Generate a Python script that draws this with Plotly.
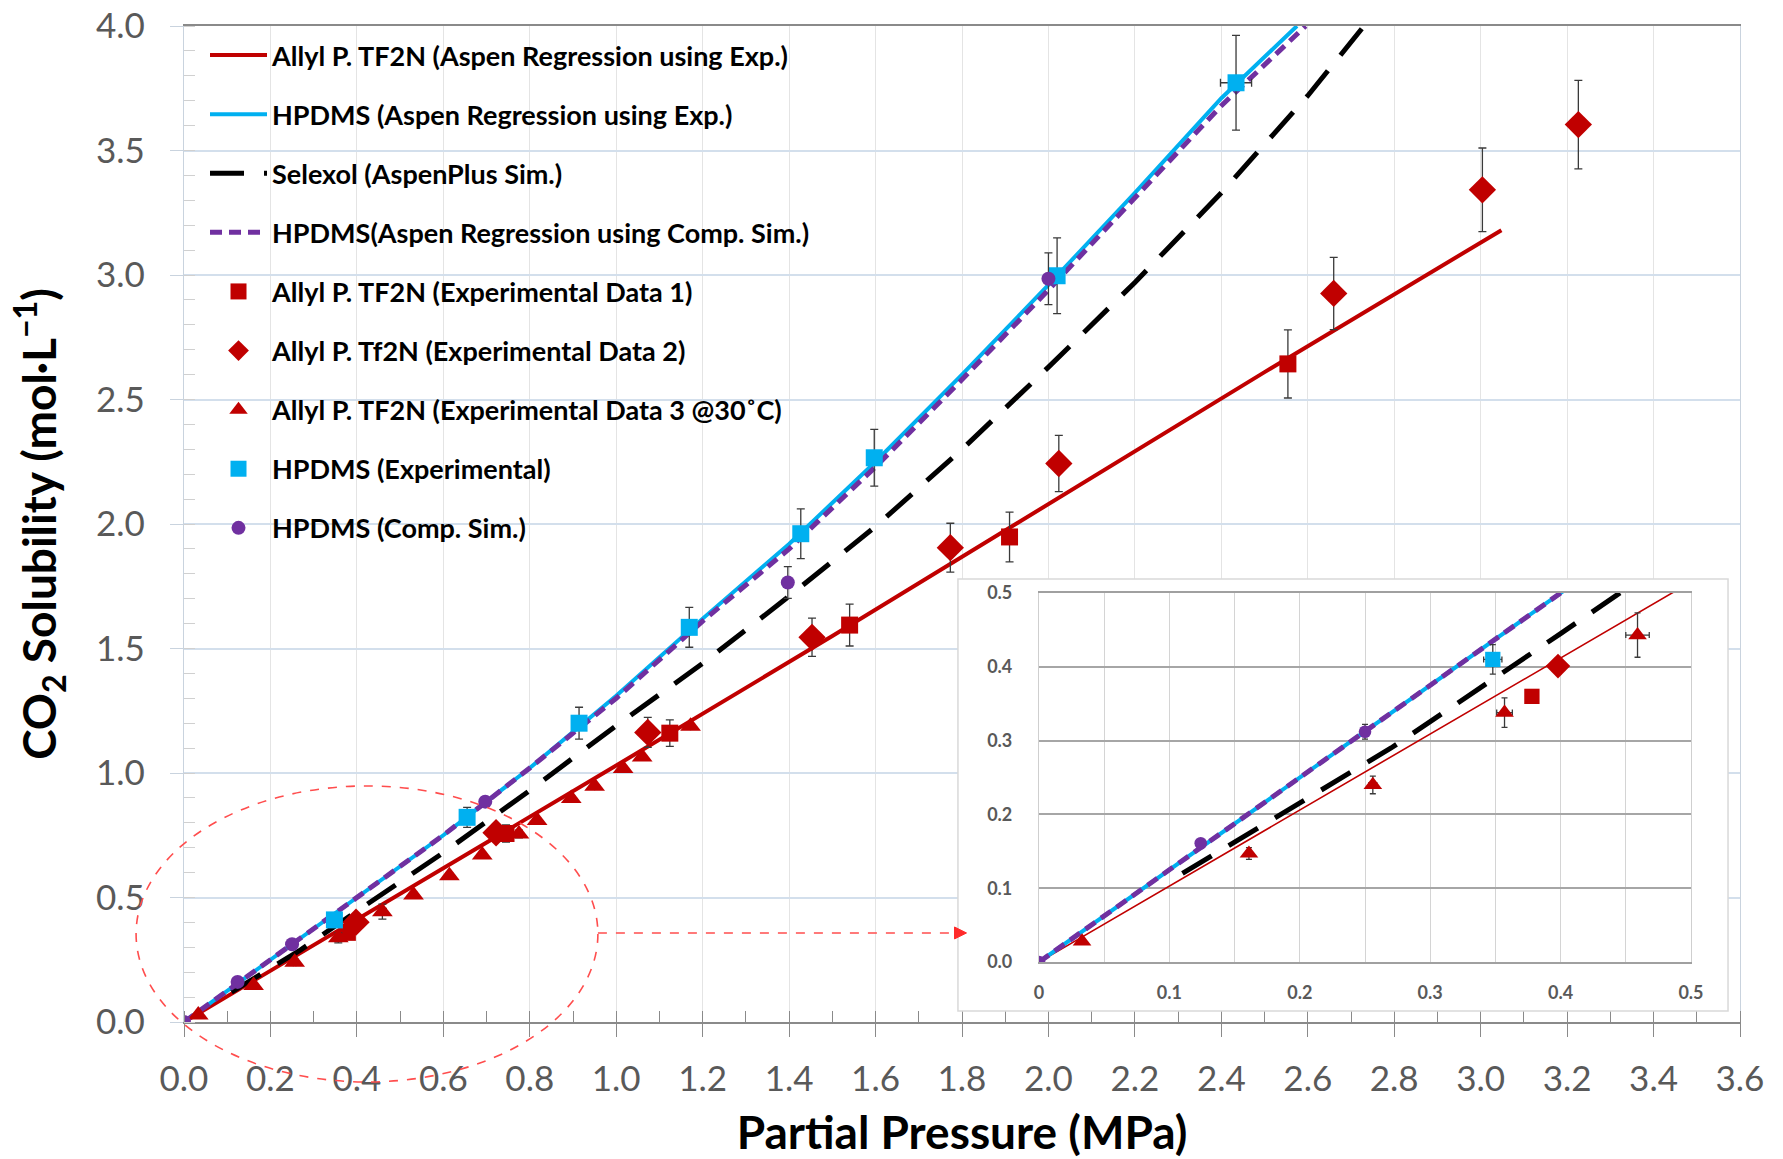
import plotly.graph_objects as go

# ---------------- data ----------------
# model / regression curves
allyl_reg_x = [0, 0.5, 1.0, 1.5, 2.0, 2.5, 3.048]
allyl_reg_y = [0, 0.515, 1.03, 1.55, 2.08, 2.61, 3.18]

hpdms_reg_x = [0, 0.2, 0.4, 0.6, 0.8, 1.0, 1.2, 1.4, 1.6, 1.8, 2.0, 2.2, 2.4, 2.575]
hpdms_reg_y = [0, 0.25, 0.5, 0.75, 1.02, 1.31, 1.62, 1.92, 2.25, 2.6, 2.96, 3.33, 3.71, 4.0]

selexol_x = [0.11, 0.27, 0.4, 0.6, 0.8, 1.0, 1.2, 1.4, 1.6, 1.8, 2.0, 2.2, 2.4, 2.6, 2.73]
selexol_y = [0.12, 0.29, 0.445, 0.68, 0.93, 1.19, 1.44, 1.71, 1.99, 2.3, 2.63, 2.97, 3.33, 3.72, 4.0]

hpdms_comp_reg_x = [0, 0.2, 0.4, 0.6, 0.8, 1.0, 1.2, 1.4, 1.6, 1.8, 2.0, 2.2, 2.4, 2.595]
hpdms_comp_reg_y = [0, 0.25, 0.5, 0.75, 1.02, 1.3, 1.61, 1.9, 2.23, 2.58, 2.94, 3.31, 3.68, 4.0]

# experimental / simulated points
exp1_x = [0.378, 0.745, 1.124, 1.540, 1.910, 2.554]
exp1_y = [0.360, 0.757, 1.160, 1.594, 1.948, 2.643]
exp1_ey = [0.005, 0.035, 0.053, 0.084, 0.100, 0.137]

exp2_x = [0.398, 0.722, 1.073, 1.453, 1.773, 2.024, 2.660, 3.004, 3.226]
exp2_y = [0.401, 0.760, 1.163, 1.545, 1.905, 2.243, 2.926, 3.342, 3.604]
exp2_ey = [0.005, 0.035, 0.060, 0.077, 0.098, 0.113, 0.145, 0.168, 0.178]

exp3_x = [0.033, 0.161, 0.256, 0.357, 0.459, 0.531, 0.614, 0.690, 0.775, 0.817, 0.896, 0.950, 1.016, 1.060, 1.172]
exp3_y = [0.028, 0.147, 0.240, 0.338, 0.443, 0.510, 0.587, 0.671, 0.755, 0.809, 0.898, 0.947, 1.018, 1.064, 1.188]
exp3_ey = [0.004, 0.008, 0.012, 0.020, 0.030, 0.010, 0.010, 0.010, 0.015, 0.010, 0.010, 0.010, 0.010, 0.010, 0.010]
exp3_ex = [0, 0, 0.003, 0.006, 0.009, 0, 0, 0, 0, 0, 0, 0, 0, 0, 0]

hpdms_exp_x = [0.348, 0.655, 0.914, 1.169, 1.427, 1.597, 2.020, 2.434]
hpdms_exp_y = [0.410, 0.822, 1.200, 1.585, 1.961, 2.266, 2.997, 3.772]
hpdms_exp_ey = [0.020, 0.040, 0.064, 0.080, 0.100, 0.114, 0.152, 0.190]
hpdms_exp_ex = [0.007, 0, 0, 0, 0, 0.008, 0.012, 0.036]

hpdms_sim_x = [0.0, 0.124, 0.250, 0.697, 1.397, 2.000]
hpdms_sim_y = [0.0, 0.161, 0.312, 0.885, 1.765, 2.985]
hpdms_sim_ey = [0, 0.003, 0.010, 0.020, 0.064, 0.104]

names = [
    "Allyl P. TF2N (Aspen Regression using Exp.)",
    "HPDMS (Aspen Regression using Exp.)",
    "Selexol (AspenPlus Sim.)",
    "HPDMS(Aspen Regression using Comp. Sim.)",
    "Allyl P. TF2N (Experimental Data 1)",
    "Allyl P. Tf2N (Experimental Data 2)",
    "Allyl P. TF2N (Experimental Data 3 @30˚C)",
    "HPDMS (Experimental)",
    "HPDMS (Comp. Sim.)",
]

RED = "#C00000"
CYAN = "#00B0F0"
PURPLE = "#7030A0"
BLACK = "#000000"
ERR = "#3a3a3a"

fig = go.Figure()


def add_set(xa, ya, inset):
    legend = not inset
    k = 0.9 if inset else 1.0
    lw_red = 1.6 if inset else 4
    ew = 3 if inset else 4

    def err(arr):
        return dict(type="data", array=arr, color=ERR, thickness=1.3, width=ew)

    fig.add_trace(go.Scatter(x=allyl_reg_x, y=allyl_reg_y, mode="lines", name=names[0],
                             line=dict(color=RED, width=lw_red), showlegend=legend,
                             legendgroup="g0", xaxis=xa, yaxis=ya))
    fig.add_trace(go.Scatter(x=hpdms_reg_x, y=hpdms_reg_y, mode="lines", name=names[1],
                             line=dict(color=CYAN, width=4), showlegend=legend,
                             legendgroup="g1", xaxis=xa, yaxis=ya))
    fig.add_trace(go.Scatter(x=selexol_x, y=selexol_y, mode="lines", name=names[2],
                             line=dict(color=BLACK, width=5, dash="34px,20px"), showlegend=legend,
                             legendgroup="g2", xaxis=xa, yaxis=ya))
    fig.add_trace(go.Scatter(x=hpdms_comp_reg_x, y=hpdms_comp_reg_y, mode="lines", name=names[3],
                             line=dict(color=PURPLE, width=5, dash="12px,7px"), showlegend=legend,
                             legendgroup="g3", xaxis=xa, yaxis=ya))
    fig.add_trace(go.Scatter(x=exp1_x, y=exp1_y, mode="markers", name=names[4],
                             marker=dict(symbol="square", color=RED, size=17 * k),
                             error_y=err(exp1_ey), showlegend=legend,
                             legendgroup="g4", xaxis=xa, yaxis=ya))
    fig.add_trace(go.Scatter(x=exp2_x, y=exp2_y, mode="markers", name=names[5],
                             marker=dict(symbol="diamond", color=RED, size=21 * k),
                             error_y=err(exp2_ey), showlegend=legend,
                             legendgroup="g5", xaxis=xa, yaxis=ya))
    fig.add_trace(go.Scatter(x=exp3_x, y=exp3_y, mode="markers", name=names[6],
                             marker=dict(symbol="triangle-up", color=RED, size=18 * k),
                             error_y=err(exp3_ey), error_x=err(exp3_ex), showlegend=legend,
                             legendgroup="g6", xaxis=xa, yaxis=ya))
    fig.add_trace(go.Scatter(x=hpdms_exp_x, y=hpdms_exp_y, mode="markers", name=names[7],
                             marker=dict(symbol="square", color=CYAN, size=17 * k),
                             error_y=err(hpdms_exp_ey), error_x=err(hpdms_exp_ex), showlegend=legend,
                             legendgroup="g7", xaxis=xa, yaxis=ya))
    fig.add_trace(go.Scatter(x=hpdms_sim_x, y=hpdms_sim_y, mode="markers", name=names[8],
                             marker=dict(symbol="circle", color=PURPLE, size=14 * k),
                             error_y=err(hpdms_sim_ey), showlegend=legend,
                             legendgroup="g8", xaxis=xa, yaxis=ya))


add_set("x", "y", False)
# white panel behind the inset (empty subplot)
fig.add_trace(go.Scatter(x=[None], y=[None], xaxis="x2", yaxis="y2", showlegend=False, hoverinfo="skip"))
add_set("x3", "y3", True)

TICK_FONT = dict(family="Lato", size=35, color="#595959")
INSET_FONT = dict(family="Lato", size=18, color="#595959", weight="bold")
TITLE_FONT = dict(family="Lato", size=46, color="black", weight="bold")

fig.update_layout(
    width=1783, height=1159,
    margin=dict(l=184, r=43, t=26, b=137),
    paper_bgcolor="white", plot_bgcolor="white",
    font=dict(family="Lato", color="black"),
    xaxis=dict(
        domain=[0, 1], range=[0, 3.6], dtick=0.2, tick0=0, tickformat=".1f",
        showgrid=True, gridcolor="#e4e4e4", gridwidth=1,
        showline=True, linecolor="#8a8a8a", linewidth=1.5, mirror=True,
        ticks="outside", ticklen=13, tickcolor="#8a8a8a", tickwidth=1.3,
        minor=dict(dtick=0.1, ticks="inside", ticklen=11, tickcolor="#8a8a8a", tickwidth=1.3, showgrid=False),
        tickfont=TICK_FONT, ticklabelstandoff=12, zeroline=False, automargin=False,
        title=dict(text="Partial Pressure (MPa)", font=TITLE_FONT, standoff=22),
    ),
    yaxis=dict(
        domain=[0, 1], range=[0, 4.0], dtick=0.5, tick0=0, tickformat=".1f",
        showgrid=True, gridcolor="#d3dfec", gridwidth=1.5,
        showline=True, linecolor="#c9d3de", linewidth=1.3, mirror=True,
        ticks="outside", ticklen=13, tickcolor="#c9d3de", tickwidth=1.3,
        minor=dict(dtick=0.1, ticks="inside", ticklen=11, tickcolor="#d0d0d0", tickwidth=1.3, showgrid=False),
        tickfont=TICK_FONT, ticklabelstandoff=18, zeroline=False, automargin=False,
        title=dict(text="CO<sub>2</sub> Solubility (mol·L<sup>−1</sup>)", font=TITLE_FONT, standoff=24),
    ),
    xaxis2=dict(domain=[0.4974, 0.9923], range=[0, 1], visible=False, anchor="y2", fixedrange=True),
    yaxis2=dict(domain=[0.011, 0.4448], range=[0, 1], visible=False, anchor="x2", fixedrange=True),
    xaxis3=dict(
        domain=[0.5495, 0.9685], range=[0, 0.5], anchor="y3",
        tickvals=[0, 0.1, 0.2, 0.3, 0.4, 0.5], ticktext=["0", "0.1", "0.2", "0.3", "0.4", "0.5"],
        showgrid=True, gridcolor="#d4d4d4", gridwidth=1,
        minor=dict(dtick=0.05, tick0=0, showgrid=True, gridcolor="#d4d4d4", gridwidth=1),
        showline=True, linecolor="#a0a0a0", linewidth=1.5, mirror=True,
        ticks="", tickfont=INSET_FONT, ticklabelstandoff=14, zeroline=False, automargin=False,
    ),
    yaxis3=dict(
        domain=[0.0602, 0.4307], range=[0, 0.5], anchor="x3",
        tickvals=[0, 0.1, 0.2, 0.3, 0.4, 0.5], ticktext=["0.0", "0.1", "0.2", "0.3", "0.4", "0.5"],
        showgrid=True, gridcolor="#a6a6a6", gridwidth=1.5,
        showline=True, linecolor="#cfcfcf", linewidth=1.2, mirror=True,
        ticks="", tickfont=INSET_FONT, ticklabelstandoff=22, zeroline=False, automargin=False,
    ),
    legend=dict(
        x=0.0135, y=0.995, xanchor="left", yanchor="top",
        bgcolor="rgba(0,0,0,0)", borderwidth=0,
        font=dict(family="Lato", size=27, color="black", weight="bold"),
        itemwidth=57, tracegroupgap=21, traceorder="grouped",
    ),
    showlegend=True,
)

# inset frame, zoom ellipse and arrow
fig.add_shape(type="rect", xref="paper", yref="paper", x0=0.4974, x1=0.9923, y0=0.011, y1=0.4448,
              line=dict(color="#d9d9d9", width=1.5), fillcolor="rgba(0,0,0,0)", layer="above")
fig.add_shape(type="circle", xref="paper", yref="paper", x0=-0.0308, x1=0.266, y0=-0.0602, y1=0.237,
              line=dict(color="#ff4d4d", width=1.6, dash="dash"), layer="above")
fig.add_shape(type="line", xref="paper", yref="paper", x0=0.266, x1=0.497, y0=0.0894, y1=0.0894,
              line=dict(color="#ff4d4d", width=1.6, dash="dash"), layer="above")
fig.add_shape(type="path", xref="paper", yref="paper",
              path="M 0.4952 0.0954 L 0.5029 0.0894 L 0.4952 0.0834 Z",
              line=dict(color="#ff2a2a", width=1), fillcolor="#ff2a2a", layer="above")

fig.write_html("out.html", config={"displayModeBar": False},
               post_script="document.body.style.margin='0';")
